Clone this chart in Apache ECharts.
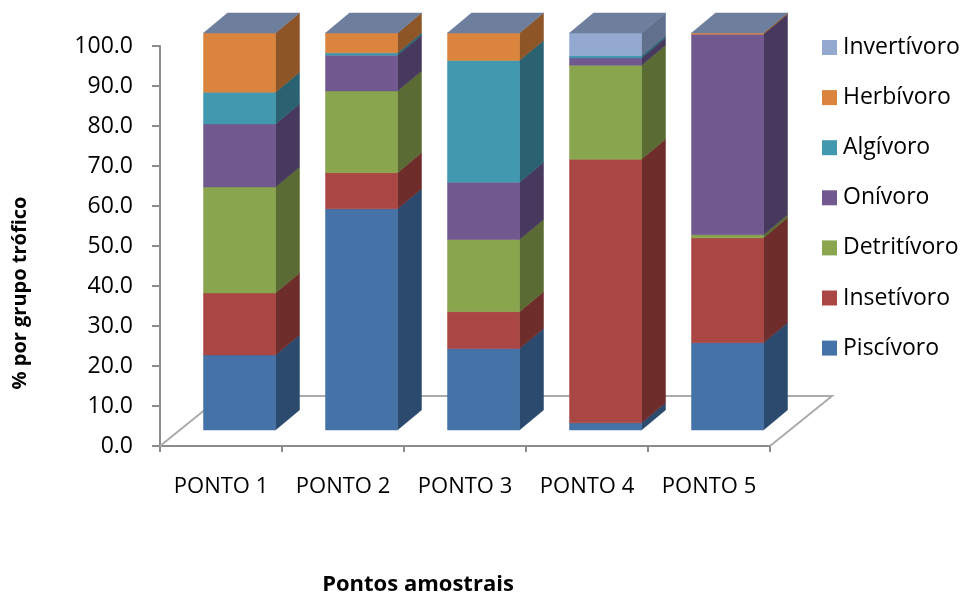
<!DOCTYPE html>
<html>
<head>
<meta charset="utf-8">
<script src="https://cdn.jsdelivr.net/npm/echarts@6/dist/echarts.min.js"></script>
<style>
html,body{margin:0;padding:0;background:#fff;}
#chart{width:966px;height:593px;}
</style>
</head>
<body>
<div id="chart"></div>
<script>
// ---- data ----
const categories = ['PONTO 1', 'PONTO 2', 'PONTO 3', 'PONTO 4', 'PONTO 5'];
const seriesNames = ['Piscívoro', 'Insetívoro', 'Detritívoro', 'Onívoro', 'Algívoro', 'Herbívoro', 'Invertívoro'];
const piscivoro   = [18.9, 55.7, 20.5,  1.8, 22.0];
const insetivoro  = [15.6,  9.1,  9.3, 66.4, 26.4];
const detritivoro = [26.7, 20.6, 18.2, 23.7,  0.8];
const onivoro     = [15.9,  9.0, 14.4,  1.8, 50.5];
const algivoro    = [ 8.0,  0.6, 30.7,  0.6,  0.0];
const herbivoro   = [14.9,  5.0,  6.9,  0.0,  0.3];
const invertivoro = [ 0.0,  0.0,  0.0,  5.7,  0.0];
const yTicks = [0, 10, 20, 30, 40, 50, 60, 70, 80, 90, 100];

const values = [piscivoro, insetivoro, detritivoro, onivoro, algivoro, herbivoro, invertivoro];
const frontColors = ['#4572A7', '#AA4643', '#89A54E', '#71588F', '#4198AF', '#DB843D', '#93A9CF'];
const sideColors  = ['#2C4A6E', '#6E2C2B', '#5A6B33', '#47385E', '#2A6272', '#8E5526', '#61708C'];
const topColor = '#6E7F9E';

// 3D geometry (pixels)
const FX = 18.5;     // front-face shift to the right of the band centre
const FY = 16;       // front-face lift above the axis baseline
const HALF = 36;     // half width of the front face
const DX = 24, DY = -20; // depth of the box
const KY = 0.9925;   // slight perspective scale of the front face

const chart = echarts.init(document.getElementById('chart'), null, {renderer: 'canvas'});

function makeRender(k) {
  return function (params, api) {
    const cat = api.value(0);
    const v0 = api.value(1), v1 = api.value(2);
    const pz = api.coord([cat, 0]);
    const zeroY = pz[1];
    const front = y => zeroY - FY + (y - zeroY) * KY;
    const yb = front(api.coord([cat, v0])[1]);
    const yt = front(api.coord([cat, v1])[1]);
    const cx = pz[0] + FX;
    const xl = cx - HALF, xr = cx + HALF;
    const children = [];
    if (v1 > v0) {
      children.push({
        type: 'polygon',
        shape: {points: [[xr, yb], [xr, yt], [xr + DX, yt + DY], [xr + DX, yb + DY]]},
        style: {fill: sideColors[k], stroke: sideColors[k], lineWidth: 0.5}
      });
      children.push({
        type: 'rect',
        shape: {x: xl, y: yt, width: xr - xl, height: yb - yt},
        style: {fill: frontColors[k], stroke: frontColors[k], lineWidth: 0.5}
      });
    }
    if (k === values.length - 1) {
      children.push({
        type: 'polygon',
        shape: {points: [[xl, yt], [xr, yt], [xr + DX, yt + DY], [xl + DX, yt + DY]]},
        style: {fill: topColor, stroke: topColor, lineWidth: 0.5}
      });
    }
    return {type: 'group', children: children};
  };
}

const stackSeries = values.map((arr, k) => {
  const data = arr.map((v, i) => {
    let base = 0;
    for (let j = 0; j < k; j++) base += values[j][i];
    return [i, base, base + v];
  });
  return {
    name: seriesNames[k],
    type: 'custom',
    renderItem: makeRender(k),
    itemStyle: {color: frontColors[k]},
    encode: {x: 0, y: [1, 2]},
    data: data,
    z: 3,
    silent: true
  };
});

const floorSeries = {
  name: 'floor',
  type: 'custom',
  silent: true,
  z: 1,
  renderItem: function (params, api) {
    const p = api.coord([0, 0]);
    const bw = api.size([1, 0])[0];
    const x0 = p[0] - bw / 2;
    const x1 = x0 + bw * categories.length;
    const y0 = p[1];
    return {
      type: 'polyline',
      shape: {points: [[x0, y0], [x0 + 62, y0 - 50], [x1 + 62, y0 - 50], [x1, y0]]},
      style: {stroke: '#ABABAB', lineWidth: 2, fill: null}
    };
  },
  data: [[0, 0]]
};

const FONT = '"Open Sans"';

chart.setOption({
  animation: false,
  backgroundColor: '#ffffff',
  grid: {left: 160, right: 196, top: 46, bottom: 147},
  xAxis: {
    type: 'category',
    data: categories,
    axisLine: {lineStyle: {color: '#8C8C8C', width: 2}},
    axisTick: {show: true, interval: 0, alignWithLabel: false, length: 6, lineStyle: {color: '#8C8C8C', width: 2}},
    axisLabel: {color: '#000', fontFamily: FONT, fontSize: 22, margin: 30, interval: 0}
  },
  yAxis: {
    type: 'value',
    min: yTicks[0],
    max: yTicks[yTicks.length - 1],
    interval: yTicks[1] - yTicks[0],
    axisLine: {show: true, lineStyle: {color: '#8C8C8C', width: 2}},
    axisTick: {show: true, length: 8, lineStyle: {color: '#8C8C8C', width: 2}},
    splitLine: {show: false},
    axisLabel: {color: '#000', fontFamily: FONT, fontSize: 23, margin: 27,
      formatter: v => v.toFixed(1)}
  },
  legend: {
    orient: 'vertical',
    left: 822,
    top: 36,
    padding: 0,
    itemWidth: 15,
    itemHeight: 15,
    itemGap: 27.1,
    icon: 'rect',
    data: seriesNames.slice().reverse(),
    textStyle: {color: '#000', fontFamily: FONT, fontSize: 23, lineHeight: 23, padding: [0, 0, 0, 1]}
  },
  graphic: [
    {
      type: 'text',
      x: 20, y: 293,
      rotation: Math.PI / 2,
      style: {text: '% por grupo trófico', fontFamily: FONT, fontWeight: 'bold', fontSize: 20,
        fill: '#000', textAlign: 'center', textVerticalAlign: 'middle'}
    },
    {
      type: 'text',
      x: 418, y: 585,
      style: {text: 'Pontos amostrais', fontFamily: FONT, fontWeight: 'bold', fontSize: 22,
        fill: '#000', textAlign: 'center', textVerticalAlign: 'middle'}
    }
  ],
  series: [floorSeries].concat(stackSeries)
});
</script>
</body>
</html>
